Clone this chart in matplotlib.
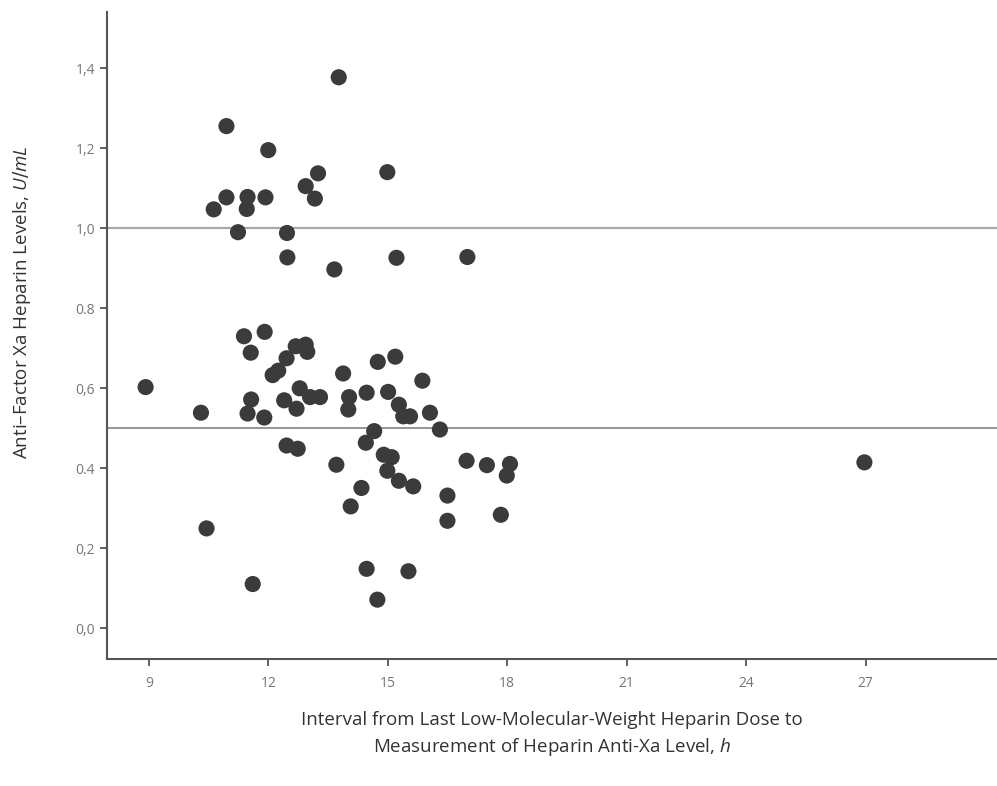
import matplotlib
matplotlib.use("Agg")
import matplotlib.pyplot as plt

plt.rcParams["font.family"] = ["Open Sans", "DejaVu Sans"]
plt.rcParams["mathtext.fontset"] = "custom"
plt.rcParams["mathtext.it"] = "Open Sans:italic"

# interval since last LMWH dose (h) and anti-Xa level (U/mL)
interval_h = [
    13.77, 10.95, 12.00, 13.25, 14.99, 12.94, 13.17, 10.95, 11.48, 11.93,
    10.63, 11.46, 11.24, 12.47, 12.48, 13.66, 15.22, 17.00,
    8.92, 10.31, 10.45, 11.39, 11.91, 11.56, 11.57, 11.48, 11.90, 11.61,
    12.46, 12.11, 12.25, 12.69, 12.94, 12.98, 12.79, 12.40, 12.71, 13.05,
    13.30, 12.46, 12.74, 13.71, 13.88, 14.75, 15.19, 15.87, 14.03, 14.01,
    14.47, 15.01, 15.28, 15.39, 15.56, 16.06, 16.31, 14.66, 14.45, 14.90,
    15.10, 14.99, 15.28, 15.64, 14.34, 14.07, 16.98, 17.49, 18.07, 17.99,
    16.50, 17.84, 16.50, 14.47, 15.52, 14.74, 26.97,
]
anti_xa = [
    1.377, 1.255, 1.195, 1.137, 1.140, 1.105, 1.074, 1.077, 1.078, 1.077,
    1.047, 1.048, 0.990, 0.988, 0.927, 0.897, 0.926, 0.928,
    0.603, 0.539, 0.250, 0.730, 0.741, 0.689, 0.572, 0.537, 0.527, 0.111,
    0.675, 0.633, 0.644, 0.705, 0.709, 0.691, 0.600, 0.570, 0.549, 0.578,
    0.578, 0.457, 0.449, 0.409, 0.637, 0.666, 0.679, 0.619, 0.578, 0.547,
    0.589, 0.591, 0.559, 0.530, 0.530, 0.539, 0.497, 0.493, 0.464, 0.434,
    0.428, 0.394, 0.369, 0.355, 0.351, 0.305, 0.419, 0.408, 0.411, 0.382,
    0.332, 0.284, 0.269, 0.149, 0.143, 0.072, 0.415,
]
target_range = [0.5, 1.0]

x_ticks = [9, 12, 15, 18, 21, 24, 27]
y_ticks = [0.0, 0.2, 0.4, 0.6, 0.8, 1.0, 1.2, 1.4]
y_ticklabels = ["0,0", "0,2", "0.4", "0,6", "0.8", "1,0", "1,2", "1,4"]

fig = plt.figure(figsize=(9.97, 7.86), dpi=100)
ax = fig.add_axes([0.1073, 0.1612, 0.8927, 0.8235])

ax.axhline(target_range[0], color="#8c8c8c", lw=1.3, zorder=1)
ax.axhline(target_range[1], color="#a8a8a8", lw=1.6, zorder=1)

ax.scatter(interval_h, anti_xa, s=135, color="#3d3a3b", edgecolors="none", zorder=3)

ax.set_xlim(7.95, 30.3)
ax.set_ylim(-0.077, 1.54)

for side in ["top", "right"]:
    ax.spines[side].set_visible(False)
for side in ["left", "bottom"]:
    ax.spines[side].set_color("#555555")
    ax.spines[side].set_linewidth(1.5)

ax.set_xticks(x_ticks)
ax.set_xticklabels([str(t) for t in x_ticks])
ax.set_yticks(y_ticks)
ax.set_yticklabels(y_ticklabels)
ax.tick_params(axis="both", direction="out", length=5, width=1.3, color="#555555",
               labelcolor="#777777", labelsize=10)
ax.tick_params(axis="x", pad=7)

ax.set_xlabel("Interval from Last Low-Molecular-Weight Heparin Dose to\n"
              "Measurement of Heparin Anti-Xa Level, $h$",
              fontsize=13.5, color="#333333", linespacing=1.45)
ax.xaxis.set_label_coords(0.5, -0.08, transform=ax.transAxes)
ax.xaxis.label.set_verticalalignment("top")
ax.set_ylabel("Anti\u2013Factor Xa Heparin Levels, $U/mL$",
              fontsize=13.5, color="#333333")
ax.yaxis.set_label_coords(-0.083, 0.552)

fig.savefig("out.png", dpi=100)
